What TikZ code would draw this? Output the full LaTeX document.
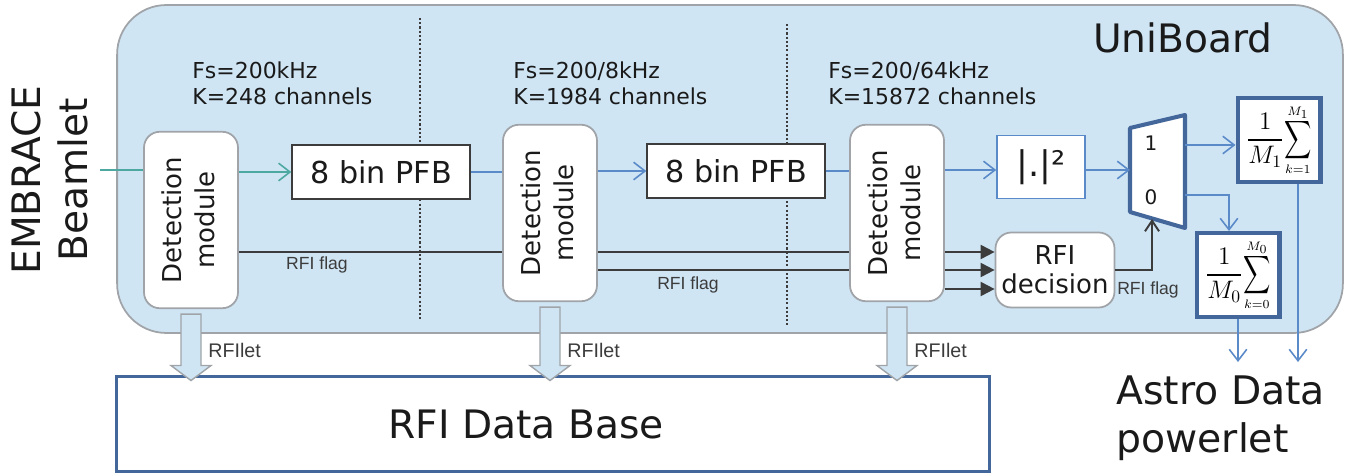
\documentclass[tikz,border=0pt]{standalone}
\usepackage{amsmath}
\usepackage{fontspec}
\setmainfont{DejaVu Sans}
\newfontfamily\flagfont{Liberation Sans}
\usetikzlibrary{arrows.meta, positioning, calc}
\definecolor{boardFill}{HTML}{CFE5F4}
\definecolor{boardEdge}{HTML}{A0A4A8}
\definecolor{flowBlue}{HTML}{5A8AC8}
\definecolor{beamTeal}{HTML}{4EA8A2}
\definecolor{deepBlue}{HTML}{44679B}
\definecolor{flagGrey}{HTML}{3C3C3C}
\definecolor{textDark}{HTML}{1A1A1A}
\tikzset{
    detbox/.style={draw=boardEdge, fill=white, line width=1pt, rounded corners=9pt,
        minimum width=1.88cm, minimum height=3.53cm, inner sep=0pt, text=textDark,
        font=\fontsize{14.8pt}{18.8pt}\selectfont},
    pfbbox/.style={draw=flagGrey, fill=white, line width=1.1pt,
        minimum width=3.55cm, minimum height=1.07cm, inner sep=0pt, text=textDark,
        font=\fontsize{17.2pt}{20pt}\selectfont},
    sumbox/.style={draw=deepBlue, fill=white, line width=2.3pt,
        minimum width=1.66cm, minimum height=1.68cm, inner sep=0pt,
        font=\fontsize{14pt}{17pt}\selectfont},
    flow/.style={flowBlue, line width=0.9pt},
    flagline/.style={flagGrey, line width=1.1pt},
    fattip/.style={draw=boardEdge, fill=boardFill, line width=0.8pt},
    infotext/.style={anchor=north west, align=left, inner sep=0pt, text=textDark,
        font=\fontsize{12.5pt}{14.8pt}\selectfont},
    flagtext/.style={text=flagGrey, inner sep=0pt, font=\flagfont\fontsize{10pt}{12pt}\selectfont},
    lettext/.style={anchor=west, inner sep=0pt, text=flagGrey, font=\flagfont\fontsize{11.2pt}{13pt}\selectfont},
    sepline/.style={flagGrey, line width=0.8pt, dash pattern=on 1.2pt off 1.2pt}
}
\newcommand{\DetText}{\rotatebox{90}{\begin{tabular}{@{}c@{}}Detection\\module\end{tabular}}}
% tall narrow sum with tiny limits close to it, as in the integrator boxes
\newcommand{\AvgSum}[2]{$\displaystyle\frac{1}{M_{#1}}\vcenter{\hbox{\shortstack{$\scriptscriptstyle M_{#1}$\\[-3pt]\scalebox{0.75}[1.05]{$\displaystyle\sum$}\\[-1pt]$\scriptscriptstyle k=#2$}}}$}
\newcommand{\DrawLet}[2]{% fat arrow from a detection module into the data base
    \draw[fattip] ($(#1.south)+(-10,5)$) -- ($(#1.south)+(10,5)$)
        -- ($(#1.south |- db.north)+(10,-9)$) -- ($(#1.south |- db.north)+(20,-9)$)
        -- ($(#1.south |- db.north)+(0,6)$) -- ($(#1.south |- db.north)+(-20,-9)$)
        -- ($(#1.south |- db.north)+(-10,-9)$) -- cycle;
    \node[lettext] (#2) at ($(#1.south |- db.north)+(17,-24)$) {RFIlet};
}

\begin{document}
\begin{tikzpicture}[x=0.02cm, y=-0.02cm, >={Straight Barb[length=6.5pt,width=10pt]}]
    \useasboundingbox (0,0) rectangle (1346,476);

    % --- BOARD ---
    \node[draw=boardEdge, fill=boardFill, line width=1pt, rounded corners=28pt,
        minimum width=24.52cm, minimum height=6.56cm] (board) at (730,169) {};
    \node[text=textDark, font=\fontsize{22.3pt}{26pt}\selectfont] (boardname) at (1183,38) {UniBoard};
    \node[rotate=90, align=center, text=textDark, font=\fontsize{22.3pt}{26.7pt}\selectfont]
        (beam) at (50,180) {EMBRACE\\Beamlet};

    % stage separators
    \draw[sepline] (420,18) -- (420,320);
    \draw[sepline] (787,24) -- (787,327);

    % sample rates per stage
    \node[infotext] (rate1) at (192,61) {Fs=200kHz\\K=248 channels};
    \node[infotext] (rate2) at (513,61) {Fs=200/8kHz\\K=1984 channels};
    \node[infotext] (rate3) at (828,61) {Fs=200/64kHz\\K=15872 channels};

    % --- PROCESSING CHAIN ---
    \node[detbox] (det1) at (191,220) {\DetText};
    \node[detbox] (det2) at (550,213) {\DetText};
    \node[detbox] (det3) at (897,213) {\DetText};
    \node[pfbbox] (pfb1) at (381,172) {8 bin PFB};
    \node[pfbbox] (pfb2) at (736,171) {8 bin PFB};
    \node[draw=flowBlue, fill=white, line width=0.9pt, minimum width=1.76cm, minimum height=1.26cm,
        inner sep=0pt, text=textDark, font=\fontsize{20pt}{24pt}\selectfont] (sq) at (1041,167) {|.|²};
    \node[detbox, minimum width=2.38cm, minimum height=1.5cm, align=center,
        font=\fontsize{14.8pt}{16.5pt}\selectfont] (dec) at (1055,270) {RFI\\decision};

    % multiplexer
    \draw[draw=deepBlue, fill=white, line width=2.3pt, line join=round]
        (1130,128) -- (1185,115) -- (1185,228) -- (1130,212) -- cycle;
    \node[text=textDark, font=\fontsize{11.4pt}{13pt}\selectfont] (muxOne) at (1151,143) {1};
    \node[text=textDark, font=\fontsize{11.4pt}{13pt}\selectfont] (muxZero) at (1151,197) {0};
    \coordinate (muxIn) at (1130,170);
    \coordinate (muxOut1) at (1185,145);
    \coordinate (muxOut0) at (1185,195);
    \coordinate (muxSel) at (1152,219);

    % integrators
    \node[sumbox] (sum1) at (1279,140) {\AvgSum{1}{1}};
    \node[sumbox] (sum0) at (1238,275) {\AvgSum{0}{0}};

    % --- DATA FLOW ---
    \coordinate (beamIn) at (100,170);
    \draw[beamTeal, line width=0.9pt] (beamIn) -- (det1.west |- beamIn);
    \draw[beamTeal, line width=0.9pt, ->] (det1.east |- pfb1.west) -- (pfb1.west);
    \draw[flow] (pfb1.east) -- (det2.west |- pfb1.east);
    \draw[flow, ->] (det2.east |- pfb2.west) -- (pfb2.west);
    \draw[flow] (pfb2.east) -- (det3.west |- pfb2.east);
    \draw[flow, ->] (det3.east |- muxIn) -- (sq.west |- muxIn);
    \draw[flow, ->] (sq.east |- muxIn) -- (muxIn);
    \draw[flow, ->] (muxOut1) -- (sum1.west |- muxOut1);
    \draw[flow, ->] (muxOut0) -| ($(sum0.north)+(-9,0)$);

    % RFI flags
    \coordinate (flagA) at (0,252);
    \coordinate (flagB) at (0,270);
    \coordinate (flagC) at (0,289);
    \draw[flagline] (det1.east |- flagA) -- (det2.west |- flagA);
    \draw[flagline] (det2.east |- flagA) -- (det3.west |- flagA);
    \draw[flagline] (det2.east |- flagB) -- (det3.west |- flagB);
    \foreach \f in {flagA, flagB, flagC}
        \draw[flagline, -{Triangle[length=8pt,width=8pt]}] (det3.east |- \f) -- (dec.west |- \f);
    \draw[flagline, -{Straight Barb[length=6pt,width=8pt]}] (dec.east) -| (muxSel);
    \node[flagtext] (flag1) at (317,265) {RFI flag};
    \node[flagtext] (flag2) at (688,285) {RFI flag};
    \node[flagtext] (flag3) at (1148,290) {RFI flag};

    % astro output
    \coordinate (astroLvl) at (0,362);
    \draw[flow, ->] (sum0.south) -- (sum0.south |- astroLvl);
    \coordinate (s1out) at ($(sum1.south)+(19,0)$);
    \draw[flow, ->] (s1out) -- (s1out |- astroLvl);
    \node[anchor=north west, align=left, inner sep=0pt, text=textDark,
        font=\fontsize{22.4pt}{27.5pt}\selectfont] (astro) at (1116,375) {Astro Data\\powerlet};

    % --- RFI DATA BASE ---
    \node[draw=deepBlue, fill=white, line width=1.7pt, minimum width=17.46cm, minimum height=1.92cm,
        text=textDark, font=\fontsize{22.3pt}{26pt}\selectfont] (db) at (553,424) {RFI Data Base\hspace*{1.08cm}};
    \DrawLet{det1}{let1}
    \DrawLet{det2}{let2}
    \DrawLet{det3}{let3}
\end{tikzpicture}
\end{document}
